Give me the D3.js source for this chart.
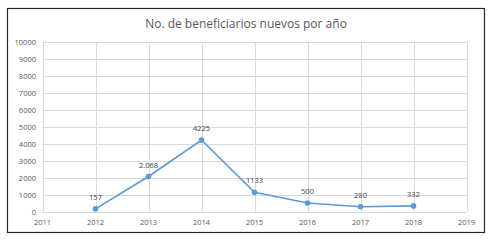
<!DOCTYPE html>
<html><head><meta charset="utf-8">
<script src="https://cdn.jsdelivr.net/npm/d3@7"></script>
<style>
html,body{margin:0;padding:0;background:#fff;}
text{font-family:"Open Sans","Liberation Sans",sans-serif;}
</style></head>
<body>
<svg id="c" width="490" height="240"></svg>
<script>
const title = "No. de beneficiarios nuevos por año";
const years = [2012, 2013, 2014, 2015, 2016, 2017, 2018];
const values = [157, 2068, 4225, 1133, 500, 280, 332];
const labels = ["157", "2.068", "4225", "1133", "500", "280", "332"];
const xTicks = [2011, 2012, 2013, 2014, 2015, 2016, 2017, 2018, 2019];
const yTicks = [0, 1000, 2000, 3000, 4000, 5000, 6000, 7000, 8000, 9000, 10000];

const svg = d3.select("#c");
svg.append("rect").attr("x", 7.5).attr("y", 8.5).attr("width", 477).attr("height", 224)
  .attr("fill", "#fff").attr("stroke", "#262626").attr("stroke-width", 1.2);

const x = d3.scaleLinear().domain([2011, 2019]).range([42.5, 466.5]);
const y = d3.scaleLinear().domain([0, 10000]).range([211.5, 42.3]);

svg.append("text").attr("x", 246).attr("y", 27.5).attr("text-anchor", "middle")
  .attr("font-size", 12).attr("fill", "#595959").text(title);

const g = svg.append("g");
g.selectAll("line.h").data(yTicks).join("line")
  .attr("x1", x(2011)).attr("x2", x(2019))
  .attr("y1", d => Math.round(y(d)) + 0.5).attr("y2", d => Math.round(y(d)) + 0.5)
  .attr("stroke", "#d9d9d9").attr("stroke-width", 1);
g.selectAll("line.v").data(xTicks).join("line")
  .attr("y1", y(0)).attr("y2", y(10000))
  .attr("x1", d => Math.round(x(d)) + 0.5).attr("x2", d => Math.round(x(d)) + 0.5)
  .attr("stroke", "#d9d9d9").attr("stroke-width", 1);

g.selectAll("text.y").data(yTicks).join("text")
  .attr("x", 36).attr("y", d => y(d) + 3).attr("text-anchor", "end")
  .attr("font-size", 7.5).attr("fill", "#595959").text(d => d);
g.selectAll("text.x").data(xTicks).join("text")
  .attr("x", d => x(d)).attr("y", 225).attr("text-anchor", "middle")
  .attr("font-size", 7.5).attr("fill", "#595959").text(d => d);

const line = d3.line().x((d, i) => x(years[i])).y(d => y(d));
svg.append("path").datum(values).attr("d", line)
  .attr("fill", "none").attr("stroke", "#5B9BD5").attr("stroke-width", 1.6);
svg.selectAll("circle.p").data(values).join("circle")
  .attr("cx", (d, i) => x(years[i])).attr("cy", d => y(d)).attr("r", 2.8)
  .attr("fill", "#5B9BD5");
svg.selectAll("text.l").data(values).join("text")
  .attr("x", (d, i) => x(years[i])).attr("y", d => y(d) - 9)
  .attr("text-anchor", "middle").attr("font-size", 7.5).attr("fill", "#404040")
  .text((d, i) => labels[i]);
</script>
</body></html>
